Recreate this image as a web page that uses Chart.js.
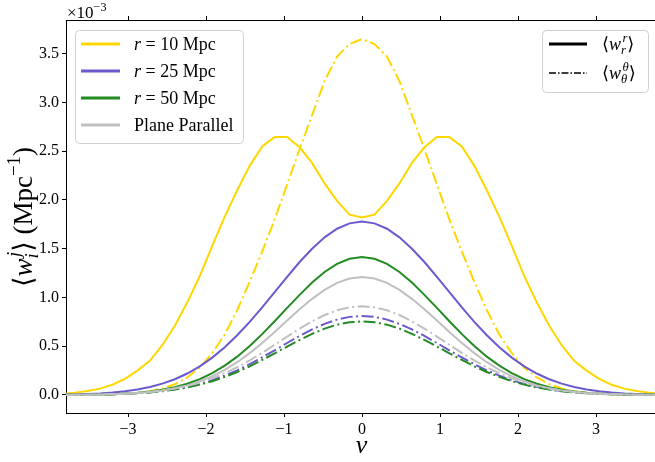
<!DOCTYPE html>
<html>
<head>
<meta charset="utf-8">
<script src="https://cdn.jsdelivr.net/npm/chart.js@4.4.1/dist/chart.umd.min.js"></script>
<style>
  html, body { margin: 0; padding: 0; background: #fff; }
  #wrap { width: 655px; height: 462px; }
</style>
</head>
<body>
<div id="wrap"><canvas id="chart" width="655" height="462"></canvas></div>
<script>
// threshold values nu (sample grid)
const nu = [-3.84,-3.68,-3.52,-3.36,-3.2,-3.04,-2.88,-2.72,-2.56,-2.4,-2.24,-2.08,-1.92,-1.76,-1.6,-1.44,-1.28,-1.12,-0.96,-0.8,-0.64,-0.48,-0.32,-0.16,
            0,0.16,0.32,0.48,0.64,0.8,0.96,1.12,1.28,1.44,1.6,1.76,1.92,2.08,2.24,2.4,2.56,2.72,2.88,3.04,3.2,3.36,3.52,3.68,3.84];

// <w_i^j> in units of 1e-3 Mpc^-1
const r10Radial = [0.013,0.024,0.04,0.065,0.105,0.165,0.25,0.35,0.51,0.71,0.95,1.22,1.53,1.83,2.10,2.35,2.55,2.645,2.645,2.54,2.38,2.17,1.99,1.85,
                   1.82,1.85,1.99,2.17,2.38,2.54,2.645,2.645,2.55,2.35,2.10,1.83,1.53,1.22,0.95,0.71,0.51,0.35,0.25,0.165,0.105,0.065,0.04,0.024,0.013];
const r10Theta  = [0.001,0.001,0.002,0.004,0.007,0.012,0.021,0.038,0.066,0.11,0.18,0.28,0.43,0.62,0.87,1.16,1.47,1.80,2.16,2.52,2.87,3.22,3.47,3.60,
                   3.65,3.60,3.47,3.22,2.87,2.52,2.16,1.80,1.47,1.16,0.87,0.62,0.43,0.28,0.18,0.11,0.066,0.038,0.021,0.012,0.007,0.004,0.002,0.001,0.001];
const r25Radial = [0.004,0.006,0.010,0.016,0.025,0.038,0.056,0.082,0.116,0.161,0.220,0.293,0.383,0.490,0.613,0.750,0.899,1.055,1.212,1.364,1.50,1.617,1.705,1.76,
                   1.78,1.76,1.705,1.617,1.50,1.364,1.212,1.055,0.899,0.750,0.613,0.490,0.383,0.293,0.220,0.161,0.116,0.082,0.056,0.038,0.025,0.016,0.010,0.006,0.004];
const r25Theta  = [0.001,0.002,0.003,0.005,0.008,0.012,0.019,0.028,0.041,0.059,0.083,0.113,0.152,0.198,0.253,0.316,0.385,0.458,0.533,0.606,0.672,0.729,0.773,0.801,
                   0.810,0.801,0.773,0.729,0.672,0.606,0.533,0.458,0.385,0.316,0.253,0.198,0.152,0.113,0.083,0.059,0.041,0.028,0.019,0.012,0.008,0.005,0.003,0.002,0.001];
const r50Radial = [0.001,0.002,0.003,0.005,0.008,0.014,0.022,0.035,0.053,0.079,0.115,0.163,0.224,0.301,0.393,0.502,0.624,0.756,0.893,1.027,1.153,1.261,1.344,1.397,
                   1.415,1.397,1.344,1.261,1.153,1.027,0.893,0.756,0.624,0.502,0.393,0.301,0.224,0.163,0.115,0.079,0.053,0.035,0.022,0.014,0.008,0.005,0.003,0.002,0.001];
const r50Theta  = [0.001,0.002,0.003,0.004,0.007,0.011,0.017,0.026,0.038,0.055,0.077,0.106,0.141,0.185,0.236,0.294,0.359,0.427,0.497,0.564,0.627,0.680,0.721,0.746,
                   0.755,0.746,0.721,0.680,0.627,0.564,0.497,0.427,0.359,0.294,0.236,0.185,0.141,0.106,0.077,0.055,0.038,0.026,0.017,0.011,0.007,0.004,0.003,0.002,0.001];
const planeRadial = [0.001,0.001,0.002,0.004,0.007,0.012,0.019,0.030,0.046,0.068,0.098,0.139,0.192,0.257,0.336,0.429,0.533,0.646,0.763,0.879,0.986,1.078,1.150,1.195,
                     1.21,1.195,1.150,1.078,0.986,0.879,0.763,0.646,0.533,0.429,0.336,0.257,0.192,0.139,0.098,0.068,0.046,0.030,0.019,0.012,0.007,0.004,0.002,0.001,0.001];
const planeTheta  = [0.001,0.002,0.003,0.005,0.009,0.014,0.021,0.031,0.046,0.066,0.093,0.127,0.170,0.223,0.284,0.355,0.432,0.515,0.599,0.680,0.755,0.820,0.869,0.899,
                     0.910,0.899,0.869,0.820,0.755,0.680,0.599,0.515,0.432,0.355,0.284,0.223,0.170,0.127,0.093,0.066,0.046,0.031,0.021,0.014,0.009,0.005,0.003,0.002,0.001];

const xTicks = [-3, -2, -1, 0, 1, 2, 3];
const yTicks = [0, 0.5, 1, 1.5, 2, 2.5, 3, 3.5];

const GOLD = '#FFD700';
const PURPLE = '#6A5ACD';
const GREEN = '#228B22';
const SILVER = '#C0C0C0';
const DASHDOT = [12, 3.5, 2, 3.5];
const SERIF = "'Liberation Serif', 'DejaVu Serif', serif";

function series(values, color, dashed) {
    return {
        data: nu.map((x, i) => ({ x: x, y: values[i] })),
        borderColor: color,
        borderWidth: 2,
        borderDash: dashed ? DASHDOT : [],
        pointRadius: 0,
        tension: 0,
        fill: false
    };
}

const datasets = [
    series(r10Radial, GOLD, false),
    series(r10Theta, GOLD, true),
    series(r25Radial, PURPLE, false),
    series(r25Theta, PURPLE, true),
    series(r50Radial, GREEN, false),
    series(r50Theta, GREEN, true),
    series(planeRadial, SILVER, false),
    series(planeTheta, SILVER, true)
];
// later series drawn on top
datasets.forEach((d, i) => { d.order = datasets.length - i; });

// draws a run of text pieces (italic / sub / sup) starting at x, baseline y
function drawPieces(ctx, pieces, x, y, size) {
    let cx = x, lastStart = x, lastEnd = x;
    pieces.forEach(p => {
        const s = size * (p.scale || 1);
        ctx.font = (p.it ? 'italic ' : '') + s + 'px ' + SERIF;
        const start = (p.stack ? lastStart : cx) + (p.dx || 0) * size;
        const w = ctx.measureText(p.t).width;
        ctx.fillText(p.t, start, y + (p.dy || 0) * size);
        if (p.stack) {
            cx = Math.max(lastEnd, start + w);
        } else {
            lastStart = start;
            cx = start + w;
        }
        lastEnd = cx;
    });
    return cx - x;
}

function measurePieces(ctx, pieces, size) {
    ctx.save();
    ctx.globalAlpha = 0;
    const w = drawPieces(ctx, pieces, 0, 0, size);
    ctx.restore();
    return w;
}

const yTitle = [
    { t: '\u27E8' },
    { t: 'w', it: true },
    { t: 'i', it: true, scale: 0.7, dy: 0.22 },
    { t: 'j', it: true, scale: 0.7, dy: -0.45, dx: 0.05, stack: true },
    { t: '\u27E9 (Mpc' },
    { t: '\u22121', scale: 0.7, dy: -0.45 },
    { t: ')' }
];

const legendRadii = [
    { label: [{ t: 'r', it: true }, { t: ' = 10 Mpc' }], color: GOLD },
    { label: [{ t: 'r', it: true }, { t: ' = 25 Mpc' }], color: PURPLE },
    { label: [{ t: 'r', it: true }, { t: ' = 50 Mpc' }], color: GREEN },
    { label: [{ t: 'Plane Parallel' }], color: SILVER }
];
const legendKinds = [
    { label: [{ t: '\u27E8' }, { t: 'w', it: true }, { t: 'r', it: true, scale: 0.7, dy: 0.22 },
              { t: 'r', it: true, scale: 0.7, dy: -0.45, dx: 0.08, stack: true }, { t: '\u27E9' }], dash: [] },
    { label: [{ t: '\u27E8' }, { t: 'w', it: true }, { t: '\u03B8', it: true, scale: 0.7, dy: 0.22 },
              { t: '\u03B8', it: true, scale: 0.7, dy: -0.45, dx: 0.08, stack: true }, { t: '\u27E9' }], dash: [7, 2, 1.5, 2] }
];

function legendBox(ctx, x, y, w, h) {
    ctx.save();
    ctx.beginPath();
    ctx.roundRect(x + 0.5, y + 0.5, w, h, 4);
    ctx.fillStyle = 'rgba(255,255,255,0.8)';
    ctx.fill();
    ctx.strokeStyle = '#d0d0d0';
    ctx.lineWidth = 1;
    ctx.stroke();
    ctx.restore();
}

const decorations = {
    id: 'decorations',
    afterDraw(chart) {
        const ctx = chart.ctx;
        ctx.save();
        ctx.fillStyle = '#000';
        ctx.textBaseline = 'alphabetic';

        // offset text for the y axis
        drawPieces(ctx, [{ t: '\u00D710' }, { t: '\u22123', scale: 0.72, dy: -0.42 }], 67, 18, 17);

        // x axis title
        ctx.font = 'italic 26px ' + SERIF;
        ctx.textAlign = 'center';
        ctx.fillText('\u03BD', (chart.chartArea.left + chart.chartArea.right) / 2 + 1, 453);
        ctx.textAlign = 'left';

        // y axis title, rotated
        const tw = measurePieces(ctx, yTitle, 27);
        ctx.save();
        ctx.translate(32, 217);
        ctx.rotate(-Math.PI / 2);
        drawPieces(ctx, yTitle, -tw / 2, 0, 27);
        ctx.restore();

        // legend for the separations
        legendBox(ctx, 75, 30, 168, 113);
        legendRadii.forEach((item, i) => {
            const ry = 44 + i * 27;
            ctx.strokeStyle = item.color;
            ctx.lineWidth = 3;
            ctx.beginPath();
            ctx.moveTo(81, ry);
            ctx.lineTo(120, ry);
            ctx.stroke();
            drawPieces(ctx, item.label, 134, ry + 6, 18);
        });

        // legend for the line styles
        legendBox(ctx, 542, 30, 106, 62);
        legendKinds.forEach((item, i) => {
            const ry = 44 + i * 29;
            ctx.strokeStyle = '#000';
            ctx.lineWidth = item.dash.length ? 1.4 : 3;
            ctx.setLineDash(item.dash);
            ctx.beginPath();
            ctx.moveTo(549, ry);
            ctx.lineTo(587, ry);
            ctx.stroke();
            ctx.setLineDash([]);
            drawPieces(ctx, item.label, 602, ry + 6, 18);
        });
        ctx.restore();
    }
};

const xMin = -3.795, xMax = 3.756;
const yMin = -0.185, yMax = 3.846;

function fmtX(v) {
    return v < 0 ? '\u2212' + Math.abs(v) : String(v);
}

const axisGrid = { drawOnChartArea: false, drawTicks: true, tickLength: 4, color: '#000', lineWidth: 1 };
const axisBorder = { display: true, color: '#000', width: 1 };

new Chart(document.getElementById('chart').getContext('2d'), {
    type: 'line',
    data: { datasets: datasets },
    options: {
        responsive: false,
        animation: false,
        events: [],
        layout: { padding: 0 },
        plugins: { legend: { display: false }, tooltip: { enabled: false } },
        scales: {
            x: {
                type: 'linear', position: 'bottom', min: xMin, max: xMax,
                afterBuildTicks: s => { s.ticks = xTicks.map(v => ({ value: v })); },
                afterFit: s => { s.height = 49; },
                grid: axisGrid, border: axisBorder,
                ticks: { color: '#000', padding: 3, maxRotation: 0, font: { family: SERIF, size: 16 }, callback: fmtX }
            },
            xTop: {
                type: 'linear', position: 'top', min: xMin, max: xMax,
                afterBuildTicks: s => { s.ticks = xTicks.map(v => ({ value: v })); },
                afterFit: s => { s.height = 20; },
                grid: axisGrid, border: axisBorder,
                ticks: { display: false }
            },
            y: {
                type: 'linear', position: 'left', min: yMin, max: yMax,
                afterBuildTicks: s => { s.ticks = yTicks.map(v => ({ value: v })); },
                afterFit: s => { s.width = 66; },
                grid: axisGrid, border: axisBorder,
                ticks: { color: '#000', padding: 3, font: { family: SERIF, size: 16 }, callback: v => v.toFixed(1) }
            }
        }
    },
    plugins: [decorations]
});
</script>
</body>
</html>
